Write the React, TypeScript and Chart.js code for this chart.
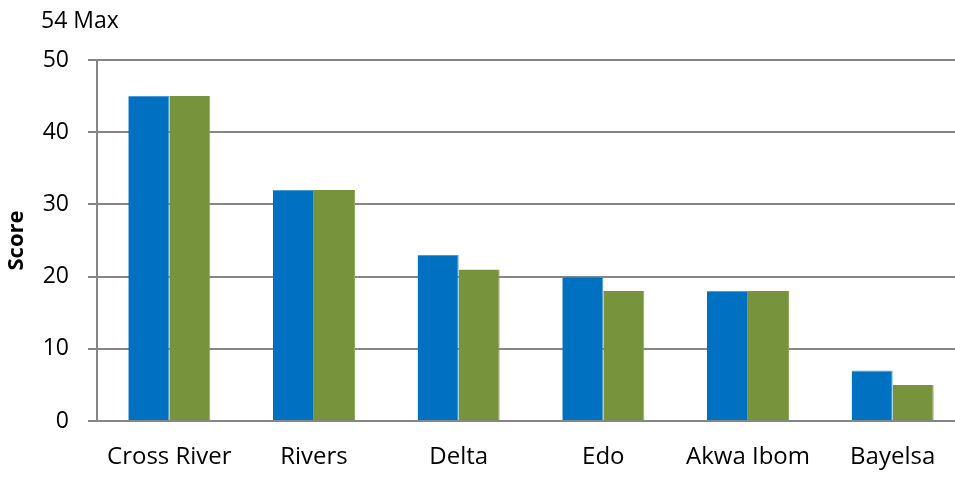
import React, { useEffect, useRef } from "react";
import { Chart, registerables } from "chart.js";

Chart.register(...registerables);

const categories = ["Cross River", "Rivers", "Delta", "Edo", "Akwa Ibom", "Bayelsa"];
const seriesBlue = [45, 32, 23, 20, 18, 7];
const seriesGreen = [45, 32, 21, 18, 18, 5];
const yTicks = [0, 10, 20, 30, 40, 50];
const topNote = "54 Max";
const yTitle = "Score";

const FONT = "'Open Sans', 'Noto Sans', sans-serif";

export default function App() {
  const ref = useRef<HTMLCanvasElement | null>(null);

  useEffect(() => {
    if (!ref.current) return;
    const notePlugin = {
      id: "note",
      afterDraw(chart: any) {
        const ctx = chart.ctx;
        ctx.save();
        ctx.font = `23px ${FONT}`;
        ctx.fillStyle = "#000";
        ctx.textBaseline = "alphabetic";
        ctx.textAlign = "left";
        ctx.fillText(topNote, 41, 28);
        ctx.restore();
      },
    };
    const chart = new Chart(ref.current, {
      type: "bar",
      data: {
        labels: categories,
        datasets: [
          {
            data: seriesBlue,
            backgroundColor: "#0070C0",
            borderColor: "#4A9BD6",
            borderWidth: { top: 1, left: 0, right: 1, bottom: 0 } as any,
          },
          {
            data: seriesGreen,
            backgroundColor: "#77933C",
            borderColor: "#8FA85A",
            borderWidth: { top: 0, left: 0, right: 1, bottom: 0 } as any,
          },
        ],
      },
      options: {
        animation: false,
        responsive: false,
        devicePixelRatio: 1,
        layout: { padding: { top: 60, right: 0, left: 0, bottom: 0 } },
        datasets: {
          bar: { categoryPercentage: 0.567, barPercentage: 1.0 },
        },
        plugins: {
          legend: { display: false },
          tooltip: { enabled: false },
          title: { display: false },
        },
        scales: {
          x: {
            grid: { display: false, drawTicks: false },
            border: { display: true, color: "#868686", width: 2 },
            ticks: {
              color: "#000",
              font: { family: FONT, size: 24 },
              padding: 22,
              maxRotation: 0,
              autoSkip: false,
            },
            afterFit(scale: any) {
              scale.height = 56;
            },
          },
          y: {
            min: 0,
            max: 50,
            afterBuildTicks(scale: any) {
              scale.ticks = yTicks.map((v) => ({ value: v }));
            },
            grid: { color: "#868686", lineWidth: 2, tickLength: 9 },
            border: { display: true, color: "#868686", width: 2 },
            ticks: {
              color: "#000",
              font: { family: FONT, size: 23 },
              padding: 19,
            },
            title: {
              display: true,
              text: yTitle,
              color: "#000",
              font: { family: FONT, size: 22, weight: "bold" },
              padding: { top: 4, bottom: 0 },
            },
            afterFit(scale: any) {
              scale.width = 97;
            },
          },
        },
      },
      plugins: [notePlugin],
    });
    return () => chart.destroy();
  }, []);

  return (
    <div
      style={{
        position: "fixed",
        left: 0,
        top: 0,
        width: 955,
        height: 477,
        overflow: "hidden",
        background: "#fff",
      }}
    >
      <canvas ref={ref} width={965} height={477} style={{ width: 965, height: 477, display: "block" }} />
    </div>
  );
}
